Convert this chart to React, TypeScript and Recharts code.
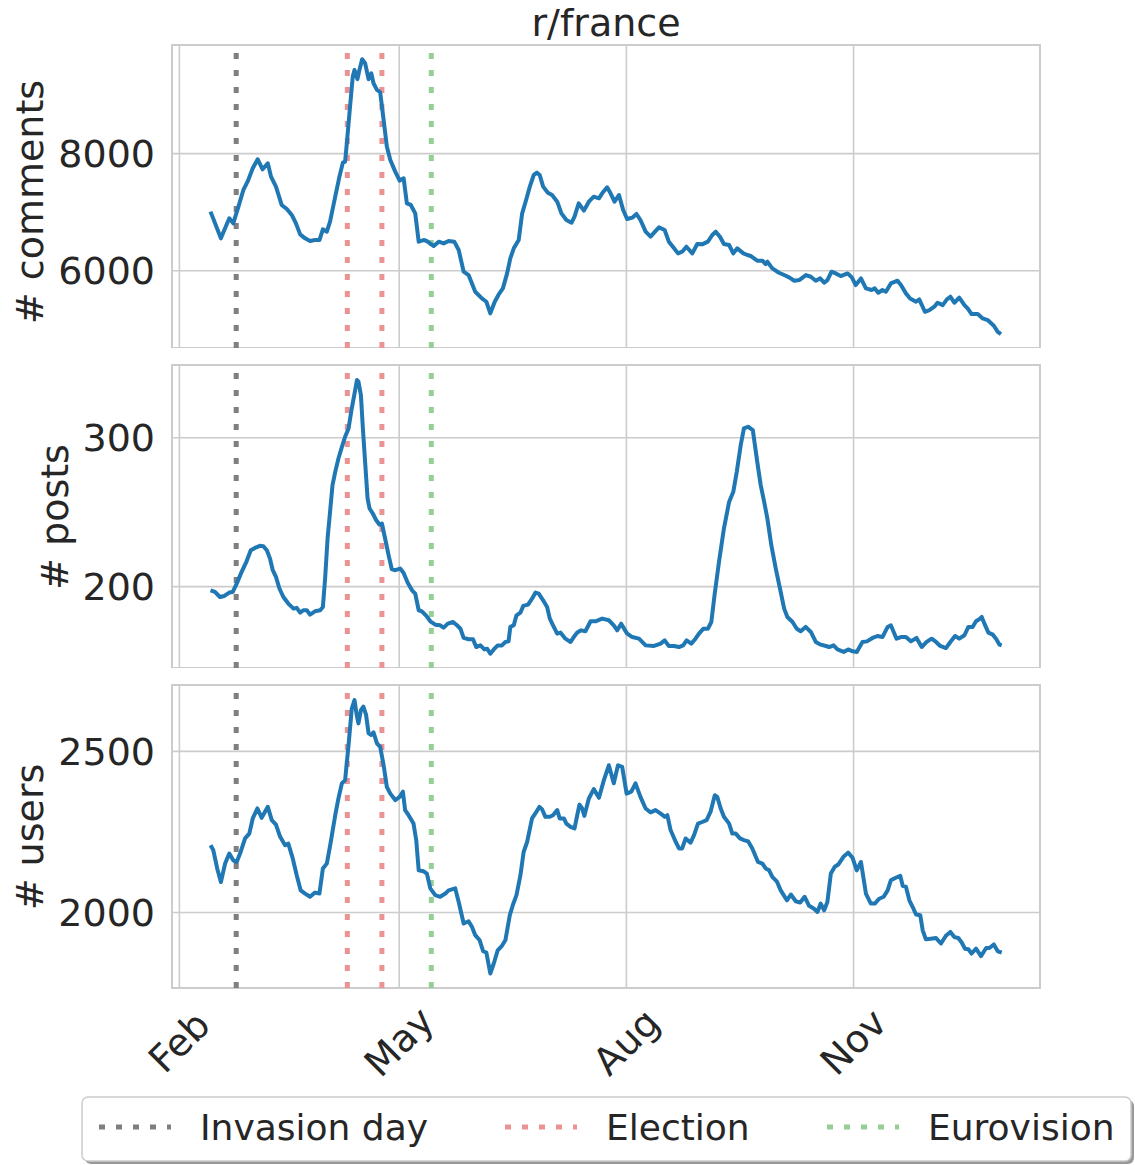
import React from 'react';
import { LineChart, Line, XAxis, YAxis, CartesianGrid, ReferenceLine, ReferenceArea } from 'recharts';

// x values are day-of-year 2022 (Jan 1 = 0)
const monthTicks = [31, 120, 212, 304];
const monthLabels = ['Feb', 'May', 'Aug', 'Nov'];
const xDomain = [28, 379.5];

const eventNames = ['Invasion day', 'Election', 'Eurovision'];
const eventColors = ['#7f7f7f', '#eb9393', '#95cf95'];
const eventDays = [[54], [99, 113], [133]];

const commentDays = [43.6, 47.8, 51.2, 52.8, 54.9, 56.9, 58.6, 60.7, 62.7, 64.7, 66.8, 68.1, 70.1, 72.4, 74.5, 76.5, 78.2, 79.9, 81.9, 83.9, 85.9, 87.7, 89.1, 90.7, 92.0, 94.1, 95.8, 97.2, 98.1, 98.8, 100.1, 101.2, 101.9, 103.1, 103.9, 105.0, 106.2, 107.6, 108.7, 109.6, 111.0, 112.3, 113.7, 115.0, 116.4, 118.4, 120.2, 121.8, 123.1, 124.7, 126.5, 127.9, 129.9, 131.2, 134.0, 136.0, 138.0, 140.0, 142.3, 144.1, 146.1, 148.1, 150.8, 153.5, 155.3, 156.9, 158.7, 160.3, 162.0, 163.7, 165.0, 166.4, 168.4, 169.8, 171.4, 172.9, 174.5, 175.8, 176.9, 178.3, 180.2, 181.9, 184.0, 185.7, 187.7, 189.8, 191.0, 192.7, 194.8, 196.8, 198.8, 200.9, 202.2, 204.2, 205.6, 207.2, 209.0, 210.7, 212.3, 214.4, 216.1, 217.7, 219.8, 221.8, 223.6, 225.2, 227.5, 229.2, 231.0, 232.9, 234.6, 236.3, 238.7, 240.7, 242.7, 245.0, 246.8, 248.2, 249.9, 251.5, 253.6, 255.3, 256.9, 259.4, 261.0, 262.4, 265.0, 267.1, 268.4, 269.1, 271.1, 273.8, 275.9, 277.9, 280.0, 282.0, 284.7, 286.7, 288.7, 290.5, 292.1, 293.4, 295.1, 296.8, 298.8, 301.6, 303.3, 304.9, 307.0, 309.0, 311.3, 312.6, 314.0, 315.7, 317.1, 319.1, 321.8, 323.2, 325.2, 326.9, 329.3, 330.6, 332.9, 334.7, 336.7, 338.0, 340.1, 341.8, 343.2, 344.8, 346.8, 348.9, 350.2, 351.8, 354.3, 356.3, 358.3, 360.8, 362.4, 363.7];
const commentVals = [7009, 6553, 6895, 6809, 7094, 7379, 7521, 7749, 7903, 7732, 7835, 7607, 7436, 7123, 7054, 6952, 6809, 6621, 6553, 6507, 6524, 6524, 6707, 6667, 6838, 7265, 7607, 7846, 7863, 8177, 8803, 9316, 9430, 9271, 9430, 9612, 9544, 9271, 9373, 9202, 9088, 9048, 8575, 8120, 7892, 7692, 7539, 7578, 7151, 7123, 6980, 6496, 6524, 6507, 6422, 6496, 6467, 6507, 6496, 6353, 5983, 5926, 5641, 5527, 5470, 5271, 5470, 5595, 5698, 5954, 6211, 6382, 6524, 6980, 7208, 7436, 7635, 7675, 7635, 7436, 7333, 7293, 7179, 6980, 6866, 6820, 6923, 7151, 7026, 7179, 7265, 7236, 7322, 7424, 7322, 7179, 7293, 7037, 6883, 6906, 6969, 6866, 6667, 6581, 6667, 6741, 6695, 6496, 6399, 6296, 6325, 6410, 6296, 6456, 6450, 6496, 6610, 6667, 6581, 6456, 6439, 6296, 6382, 6296, 6268, 6251, 6171, 6171, 6114, 6154, 6040, 5966, 5926, 5886, 5829, 5840, 5926, 5897, 5829, 5869, 5795, 5840, 5983, 5954, 5909, 5954, 5886, 5755, 5869, 5698, 5670, 5698, 5624, 5670, 5641, 5783, 5829, 5755, 5613, 5527, 5470, 5510, 5299, 5327, 5385, 5453, 5413, 5510, 5556, 5453, 5539, 5413, 5356, 5259, 5259, 5185, 5157, 5060, 4957, 4917];

const postDays = [43.6, 45.4, 47.4, 49.2, 51.2, 52.6, 54.2, 56.2, 58.2, 59.9, 61.6, 63.6, 65.0, 66.4, 67.7, 68.8, 70.1, 71.5, 73.1, 75.1, 77.2, 78.5, 79.9, 81.2, 82.6, 83.9, 85.9, 88.0, 89.1, 90.0, 91.0, 92.0, 93.0, 94.1, 95.4, 96.8, 98.1, 99.5, 100.8, 101.8, 102.9, 103.5, 104.5, 105.3, 106.2, 107.2, 108.0, 109.3, 110.7, 112.0, 113.0, 114.3, 115.7, 117.0, 118.4, 120.4, 121.8, 123.4, 125.2, 126.5, 127.9, 129.2, 131.0, 132.6, 134.6, 136.6, 138.0, 139.7, 141.8, 143.4, 144.8, 146.1, 148.1, 149.9, 151.2, 152.9, 154.5, 155.6, 156.9, 158.3, 159.9, 161.6, 163.0, 164.3, 165.0, 166.4, 167.5, 169.1, 170.2, 172.2, 173.8, 175.2, 176.5, 178.3, 179.9, 181.0, 182.3, 184.0, 185.3, 187.3, 189.4, 190.7, 192.1, 193.7, 195.4, 197.5, 199.5, 202.2, 204.9, 206.9, 208.3, 209.9, 212.3, 214.4, 217.1, 219.8, 223.2, 225.9, 227.5, 229.2, 231.3, 233.3, 235.0, 236.4, 238.3, 240.0, 241.4, 243.2, 245.0, 246.4, 247.7, 249.5, 251.5, 253.6, 255.3, 256.7, 258.3, 259.6, 261.3, 263.2, 265.0, 266.4, 267.8, 269.1, 270.7, 272.5, 274.2, 275.9, 277.2, 279.3, 281.0, 282.6, 284.6, 286.7, 288.7, 290.7, 292.8, 294.1, 295.9, 297.5, 300.0, 301.8, 303.6, 305.3, 307.6, 309.4, 311.7, 313.7, 315.7, 317.8, 319.1, 321.4, 323.2, 325.2, 327.2, 329.5, 331.6, 333.6, 335.6, 337.4, 339.1, 341.4, 343.2, 345.1, 346.8, 348.9, 350.5, 352.2, 353.6, 354.9, 355.9, 357.0, 358.6, 360.4, 361.7, 363.1, 364.0];
const postVals = [197.5, 196.4, 193.0, 193.7, 196.0, 196.4, 202.0, 209.9, 217.0, 224.4, 226.0, 227.4, 227.1, 224.4, 218.8, 211.0, 206.5, 198.7, 193.0, 188.6, 185.2, 185.7, 182.5, 184.1, 184.1, 181.2, 183.4, 184.1, 186.3, 205.4, 232.3, 250.2, 268.2, 277.1, 286.1, 293.9, 300.7, 306.3, 319.8, 328.7, 338.8, 337.7, 328.7, 306.3, 283.8, 259.2, 252.5, 249.1, 244.6, 241.7, 242.4, 232.3, 221.1, 211.7, 211.0, 212.1, 209.2, 202.7, 197.5, 195.3, 184.1, 183.4, 180.3, 176.7, 174.4, 174.0, 172.4, 175.1, 176.2, 174.0, 171.7, 165.5, 164.6, 164.6, 159.4, 160.5, 157.8, 158.3, 154.9, 157.8, 160.5, 160.5, 162.8, 163.2, 172.9, 174.0, 180.7, 182.5, 187.0, 187.9, 191.9, 196.0, 195.3, 190.8, 186.3, 178.5, 174.0, 168.4, 169.1, 165.0, 162.8, 166.1, 169.1, 170.6, 170.0, 176.7, 176.7, 178.5, 177.4, 174.0, 170.6, 175.1, 168.4, 166.1, 165.0, 160.5, 160.1, 161.7, 163.9, 160.1, 160.1, 159.4, 160.5, 163.9, 161.7, 165.0, 168.4, 171.7, 171.7, 176.2, 194.2, 216.6, 239.0, 256.9, 263.7, 277.1, 295.0, 306.3, 307.4, 305.2, 283.8, 268.2, 256.9, 245.7, 227.8, 212.1, 198.7, 185.2, 179.6, 176.2, 171.7, 170.0, 172.9, 169.5, 162.8, 161.0, 160.1, 159.4, 160.5, 157.8, 156.1, 157.8, 156.5, 156.1, 162.8, 163.2, 165.5, 166.8, 166.1, 172.9, 174.0, 165.0, 166.1, 166.1, 163.2, 165.5, 159.4, 162.8, 165.0, 162.8, 160.1, 158.7, 162.8, 166.8, 165.0, 167.3, 172.9, 172.9, 176.7, 178.0, 179.6, 175.1, 169.1, 167.7, 165.0, 161.0, 160.5];

const userDays = [43.6, 44.7, 46.3, 47.8, 49.5, 51.2, 52.8, 54.2, 55.8, 57.6, 59.3, 60.7, 62.6, 64.3, 66.8, 68.4, 70.1, 71.8, 73.8, 75.1, 76.9, 78.5, 80.1, 81.9, 83.9, 85.9, 87.7, 89.1, 90.7, 92.3, 94.1, 95.4, 96.8, 98.1, 99.5, 100.8, 101.9, 102.8, 103.5, 104.5, 105.5, 106.6, 107.6, 108.7, 109.6, 111.0, 112.3, 113.7, 115.0, 116.4, 118.4, 120.2, 121.5, 122.4, 123.8, 125.8, 126.9, 127.9, 129.9, 131.2, 132.6, 134.6, 136.6, 138.7, 140.0, 142.7, 144.1, 146.1, 148.1, 149.5, 150.8, 152.6, 154.0, 155.3, 156.9, 158.3, 159.9, 161.6, 163.0, 164.8, 166.1, 167.5, 169.1, 170.4, 171.8, 173.8, 175.6, 176.8, 177.9, 179.2, 181.0, 182.3, 184.0, 185.0, 186.7, 187.7, 189.4, 191.0, 192.1, 193.0, 194.1, 195.0, 196.8, 198.8, 200.9, 202.9, 204.9, 206.9, 208.6, 210.3, 212.1, 214.0, 215.7, 217.7, 219.8, 221.8, 223.8, 225.9, 227.6, 228.6, 229.9, 232.0, 233.3, 234.6, 236.0, 238.0, 239.4, 241.0, 242.7, 244.5, 246.1, 247.8, 248.8, 250.2, 251.5, 253.6, 254.9, 256.3, 258.0, 259.6, 261.3, 263.0, 265.3, 267.1, 268.4, 269.8, 271.1, 272.9, 274.5, 277.0, 278.6, 280.6, 282.4, 284.2, 286.0, 288.0, 289.4, 290.7, 292.1, 293.4, 294.8, 296.4, 297.8, 299.9, 301.8, 303.6, 305.3, 307.0, 309.0, 311.0, 312.6, 314.4, 316.2, 317.8, 319.1, 321.1, 322.9, 323.9, 325.2, 326.6, 327.9, 329.3, 331.0, 332.0, 333.3, 335.3, 337.4, 339.4, 341.4, 343.2, 344.8, 346.4, 347.8, 349.1, 350.5, 351.8, 353.6, 355.6, 357.7, 359.0, 360.8, 362.4, 364.0];
const userVals = [2209, 2194, 2137, 2095, 2152, 2183, 2162, 2157, 2188, 2230, 2245, 2292, 2323, 2294, 2328, 2287, 2273, 2235, 2209, 2214, 2168, 2116, 2069, 2059, 2049, 2062, 2059, 2137, 2152, 2219, 2302, 2354, 2401, 2411, 2520, 2633, 2659, 2613, 2587, 2628, 2639, 2613, 2556, 2551, 2559, 2525, 2514, 2457, 2390, 2369, 2349, 2359, 2375, 2318, 2302, 2276, 2225, 2131, 2128, 2121, 2075, 2054, 2049, 2059, 2069, 2075, 2033, 1966, 1973, 1955, 1930, 1914, 1880, 1876, 1811, 1842, 1883, 1897, 1914, 1992, 2025, 2054, 2116, 2188, 2219, 2292, 2313, 2328, 2320, 2297, 2297, 2302, 2318, 2292, 2292, 2276, 2266, 2261, 2302, 2335, 2323, 2300, 2354, 2383, 2356, 2411, 2457, 2401, 2457, 2452, 2369, 2375, 2401, 2359, 2323, 2311, 2318, 2307, 2297, 2302, 2256, 2219, 2199, 2199, 2230, 2217, 2240, 2276, 2281, 2287, 2313, 2364, 2359, 2323, 2297, 2276, 2245, 2245, 2230, 2225, 2221, 2199, 2157, 2152, 2137, 2131, 2111, 2097, 2069, 2038, 2056, 2035, 2031, 2049, 2021, 2012, 2002, 2028, 2007, 2033, 2121, 2142, 2149, 2173, 2186, 2170, 2131, 2157, 2059, 2028, 2028, 2043, 2049, 2069, 2100, 2108, 2114, 2083, 2080, 2038, 2018, 1994, 1992, 1945, 1917, 1919, 1921, 1904, 1928, 1940, 1924, 1921, 1907, 1888, 1886, 1873, 1888, 1865, 1890, 1890, 1901, 1880, 1876];

const FONT = '"DejaVu Sans", sans-serif';
const TEXT = '#262626';
const GRID = '#cccccc';
const PLOT_H = 303;

const zip = (days: number[], vals: number[]) => days.map((d, i) => ({ day: d, value: vals[i] }));

const MonthTick = (props: any) => {
  const { x, y, payload } = props;
  const label = monthLabels[monthTicks.indexOf(payload.value)];
  const cy = y + 54;
  return (
    <text x={x} y={cy} transform={`rotate(-45 ${x} ${cy})`} textAnchor="middle" dominantBaseline="central"
      fill={TEXT} fontSize={38} fontFamily={FONT}>{label}</text>
  );
};

const NoTick = () => <g />;

interface PanelProps {
  data: { day: number; value: number }[];
  top: number;
  domain: number[];
  ticks: number[];
  showX?: boolean;
}

function Panel({ data, top, domain, ticks, showX }: PanelProps) {
  const axisH = showX ? 110 : 0;
  const height = 10 + PLOT_H + axisH;
  return (
    <div style={{ position: 'absolute', left: 0, top, width: 1135, height }}>
      <LineChart width={1135} height={height} data={data} margin={{ top: 10, right: 95, bottom: 0, left: 0 }}>
        <CartesianGrid stroke={GRID} strokeWidth={1.6} />
        <XAxis dataKey="day" type="number" domain={xDomain} allowDataOverflow ticks={monthTicks}
          axisLine={false} tickLine={false} tickSize={0} tickMargin={0}
          height={axisH} tick={showX ? <MonthTick /> : <NoTick />} />
        <YAxis type="number" domain={domain} allowDataOverflow ticks={ticks} width={172}
          axisLine={false} tickLine={false} tickSize={0} tickMargin={17}
          tick={{ fill: TEXT, fontSize: 38, fontFamily: FONT }} />
        {eventDays.map((days, k) => days.map((d) => (
          <ReferenceLine key={`${k}-${d}`} segment={[{ x: d, y: domain[0] }, { x: d, y: domain[1] }]}
            stroke={eventColors[k]} strokeWidth={5} strokeDasharray="6 11" />
        )))}
        <Line type="linear" dataKey="value" stroke="#1f77b4" strokeWidth={4} dot={false}
          strokeLinejoin="round" isAnimationActive={false} />
        <ReferenceArea x1={xDomain[0]} x2={xDomain[1]} y1={domain[0]} y2={domain[1]}
          fill="none" fillOpacity={0} stroke={GRID} strokeWidth={2} />
      </LineChart>
    </div>
  );
}

export default function App() {
  return (
    <div style={{ position: 'absolute', left: 0, top: 0, width: 1135, height: 1165, background: '#fff', fontFamily: FONT }}>
      <Panel data={zip(commentDays, commentVals)} top={35} domain={[4680, 9855]} ticks={[6000, 8000]} />
      <Panel data={zip(postDays, postVals)} top={355} domain={[145.3, 348.9]} ticks={[200, 300]} />
      <Panel data={zip(userDays, userVals)} top={675} domain={[1766, 2706]} ticks={[2000, 2500]} showX />
      <svg width={1135} height={1165} style={{ position: 'absolute', left: 0, top: 0, pointerEvents: 'none' }}>
        <text x={606} y={36} textAnchor="middle" fill={TEXT} fontSize={38} fontFamily={FONT}>r/france</text>
        <text transform="translate(43 202) rotate(-90)" textAnchor="middle" fill={TEXT} fontSize={38} fontFamily={FONT}># comments</text>
        <text transform="translate(68 517) rotate(-90)" textAnchor="middle" fill={TEXT} fontSize={38} fontFamily={FONT}># posts</text>
        <text transform="translate(43 837) rotate(-90)" textAnchor="middle" fill={TEXT} fontSize={38} fontFamily={FONT}># users</text>
        <rect x={85} y={1100} width={1049} height={64} rx={6} fill="#999999" />
        <rect x={82} y={1097} width={1049} height={64} rx={6} fill="#ffffff" stroke={GRID} strokeWidth={1.5} />
        {eventNames.map((name, k) => {
          const hx = [99, 505, 827][k];
          return (
            <g key={name}>
              <line x1={hx} y1={1127} x2={hx + 72} y2={1127} stroke={eventColors[k]} strokeWidth={5} strokeDasharray="6 11" />
              <text x={hx + 101} y={1140} fill={TEXT} fontSize={36} fontFamily={FONT}>{name}</text>
            </g>
          );
        })}
      </svg>
    </div>
  );
}
